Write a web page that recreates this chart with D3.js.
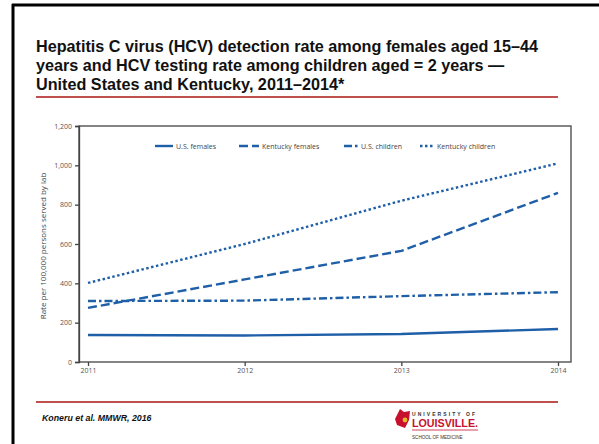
<!DOCTYPE html>
<html>
<head>
<meta charset="utf-8">
<script src="https://cdn.jsdelivr.net/npm/d3@7"></script>
<style>
  html, body { margin: 0; padding: 0; background: #fff; }
  svg { display: block; }
</style>
</head>
<body>
<svg id="slide" width="599" height="444"></svg>
<script>
// Years on the x axis
const years = [2011, 2012, 2013, 2014];
// Rates per 100,000 persons served by lab
const usFemales = [137, 135, 142, 168];
const kyFemales = [275, 420, 565, 860];
const usChildren = [310, 312, 335, 355];
const kyChildren = [402, 600, 820, 1010];
const yTicks = [0, 200, 400, 600, 800, 1000, 1200];

const seriesNames = ["U.S. females", "Kentucky females", "U.S. children", "Kentucky children"];
const seriesValues = [usFemales, kyFemales, usChildren, kyChildren];
const dashes = [null, "9,4", "8,3,2.5,3", "2.5,2.5"];

const blue = "#1f5fa8";
const red = "#c0504d";

const svg = d3.select("#slide");

// Slide frame (left and top bars)
svg.append("line").attr("x1", 13).attr("x2", 13).attr("y1", 4).attr("y2", 444)
  .attr("stroke", "#000").attr("stroke-width", 3);
svg.append("line").attr("x1", 12).attr("x2", 599).attr("y1", 5).attr("y2", 5)
  .attr("stroke", "#000").attr("stroke-width", 3);

// Title
const titleLines = [
  "Hepatitis C virus (HCV) detection rate among females aged 15\u201344",
  "years and HCV testing rate among children aged = 2 years \u2014",
  "United States and Kentucky, 2011\u20132014*"
];
svg.append("g").selectAll("text").data(titleLines).join("text")
  .attr("x", 36).attr("y", (d, i) => 52 + i * 19)
  .attr("font-family", "Liberation Sans, Arial, sans-serif")
  .attr("font-weight", "bold").attr("font-size", 16.2).attr("fill", "#111")
  .text(d => d);

svg.append("line").attr("x1", 36).attr("x2", 558).attr("y1", 97).attr("y2", 97)
  .attr("stroke", red).attr("stroke-width", 2);

// Chart area
const plotLeft = 79, plotRight = 571, plotTop = 126, plotBottom = 362;
const x = d3.scalePoint().domain(years).range([88, 558]);
const y = d3.scaleLinear().domain([0, 1200]).range([plotBottom, plotTop]);

const axisColor = "#444";
const font = "Open Sans, Lato, sans-serif";

// Plot box
svg.append("rect").attr("x", plotLeft).attr("y", plotTop)
  .attr("width", plotRight - plotLeft).attr("height", plotBottom - plotTop)
  .attr("fill", "none").attr("stroke", axisColor).attr("stroke-width", 1.3);

// Y axis
const yAxis = svg.append("g").attr("transform", `translate(${plotLeft},0)`)
  .call(d3.axisLeft(y).tickValues(yTicks).tickSize(4).tickPadding(3)
    .tickFormat(d3.format(",")));
yAxis.select(".domain").attr("stroke", axisColor).attr("stroke-width", 1.3);
yAxis.selectAll(".tick line").attr("stroke", axisColor).attr("stroke-width", 1.3);
yAxis.selectAll(".tick text").attr("font-family", font).attr("font-size", 7).attr("fill", "#555");

// X axis
const xAxis = svg.append("g").attr("transform", `translate(0,${plotBottom})`)
  .call(d3.axisBottom(x).tickSize(4).tickPadding(2.5).tickFormat(d3.format("d")));
xAxis.select(".domain").remove();
xAxis.selectAll(".tick line").attr("stroke", axisColor).attr("stroke-width", 1.3);
xAxis.selectAll(".tick text").attr("font-family", font).attr("font-size", 7).attr("fill", "#555");

// Y axis title
svg.append("text")
  .attr("transform", `translate(46,${(plotTop + plotBottom) / 2 + 2}) rotate(-90)`)
  .attr("text-anchor", "middle")
  .attr("font-family", font).attr("font-size", 8).attr("fill", "#444")
  .text("Rate per 100,000 persons served by lab");

// Series lines
const line = d3.line().x((d, i) => x(years[i])).y(d => y(d));
svg.append("g").selectAll("path").data(seriesValues).join("path")
  .attr("d", d => line(d))
  .attr("fill", "none").attr("stroke", blue).attr("stroke-width", 2.4)
  .attr("stroke-dasharray", (d, i) => dashes[i]);

// Legend
const legendItems = [
  { x1: 155, x2: 173, tx: 176 },
  { x1: 239, x2: 259, tx: 262 },
  { x1: 344, x2: 358, tx: 361 },
  { x1: 420, x2: 433, tx: 437 }
];
const lg = svg.append("g");
legendItems.forEach((it, i) => {
  lg.append("line").attr("x1", it.x1).attr("x2", it.x2).attr("y1", 146).attr("y2", 146)
    .attr("stroke", blue).attr("stroke-width", 2.4).attr("stroke-dasharray", dashes[i]);
  lg.append("text").attr("x", it.tx).attr("y", 148.5)
    .attr("font-family", font).attr("font-size", 7).attr("fill", "#444")
    .text(seriesNames[i]);
});

// Footer
svg.append("line").attr("x1", 36).attr("x2", 558).attr("y1", 402).attr("y2", 402)
  .attr("stroke", red).attr("stroke-width", 2);
svg.append("text").attr("x", 42).attr("y", 421)
  .attr("font-family", "Liberation Sans, Arial, sans-serif")
  .attr("font-weight", "bold").attr("font-style", "italic").attr("font-size", 8.8)
  .attr("fill", "#111").text("Koneru et al. MMWR, 2016");

// University logo
const logo = svg.append("g");
logo.append("path")
  .attr("d", "M395,419 L400,409 L404,412 L410,411 L409,420 L405,428 L397,425 Z")
  .attr("fill", "#c8102e");
logo.append("circle").attr("cx", 405).attr("cy", 420).attr("r", 2.4).attr("fill", "#e8b828");
logo.append("text").attr("x", 412).attr("y", 415.5)
  .attr("font-family", "Liberation Sans, Arial, sans-serif").attr("font-weight", "bold")
  .attr("font-size", 5).attr("fill", "#333")
  .attr("textLength", 63).attr("lengthAdjust", "spacing")
  .text("UNIVERSITY OF");
logo.append("text").attr("x", 412).attr("y", 427)
  .attr("font-family", "Liberation Sans, Arial, sans-serif").attr("font-weight", "bold")
  .attr("font-size", 11).attr("fill", "#c8102e")
  .attr("textLength", 66).attr("lengthAdjust", "spacingAndGlyphs")
  .text("LOUISVILLE.");
logo.append("line").attr("x1", 412).attr("x2", 478).attr("y1", 430).attr("y2", 430)
  .attr("stroke", "#c8102e").attr("stroke-width", 0.8);
logo.append("text").attr("x", 412).attr("y", 439)
  .attr("font-family", "Liberation Sans, Arial, sans-serif")
  .attr("font-size", 4.6).attr("fill", "#333")
  .text("SCHOOL OF MEDICINE");
</script>
</body>
</html>
